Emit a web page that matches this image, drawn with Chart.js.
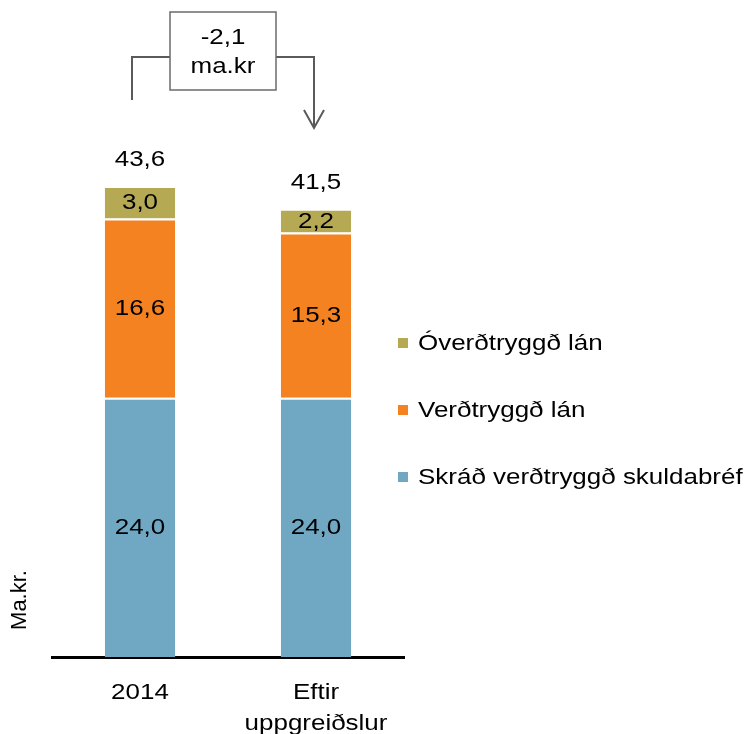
<!DOCTYPE html>
<html>
<head>
<meta charset="utf-8">
<script src="https://cdn.jsdelivr.net/npm/chart.js@4/dist/chart.umd.min.js"></script>
<style>
  html, body { margin: 0; padding: 0; background: #fff; }
  #wrap { width: 754px; height: 734px; }
</style>
</head>
<body>
<div id="wrap"><canvas id="c" width="754" height="734"></canvas></div>
<script>
// Categories and series (ma.kr.)
const categories = ['2014', ['Eftir', 'uppgreiðslur']];
const seriesNames = ['Skráð verðtryggð skuldabréf', 'Verðtryggð lán', 'Óverðtryggð lán'];
const skradVerdtryggd = [24.0, 24.0];
const verdtryggdLan = [16.6, 15.3];
const overdtryggdLan = [3.0, 2.2];
const totals = [43.6, 41.5];
const seriesColors = ['#70a8c4', '#f58220', '#b5a954'];
const yAxisTitle = 'Ma.kr.';
const changeUnit = 'ma.kr';

const FONT = '22px "Liberation Sans", Arial, sans-serif';
const STRETCH = 1.18;   // slightly widened lettering for horizontal text
const fmt = v => v.toFixed(1).replace('.', ',');

function wideText(ctx, text, x, y, align, rotate) {
  ctx.save();
  ctx.translate(x, y);
  if (rotate) ctx.rotate(rotate);
  else ctx.scale(STRETCH, 1);
  ctx.font = FONT;
  ctx.fillStyle = '#000';
  ctx.textAlign = align || 'center';
  ctx.textBaseline = 'middle';
  ctx.fillText(text, 0, 0);
  ctx.restore();
}

// Value labels inside each segment and totals above the stacks
const labelPlugin = {
  id: 'valueLabels',
  afterDatasetsDraw(chart) {
    const ctx = chart.ctx;
    chart.data.datasets.forEach((ds, i) => {
      chart.getDatasetMeta(i).data.forEach((bar, j) => {
        const p = bar.getProps(['x', 'y', 'base'], true);
        wideText(ctx, fmt(ds.data[j]), p.x, (p.y + p.base) / 2 + 1);
      });
    });
    chart.getDatasetMeta(chart.data.datasets.length - 1).data.forEach((bar, j) => {
      const p = bar.getProps(['x', 'y'], true);
      wideText(ctx, fmt(totals[j]), p.x, p.y - 26);
    });
  }
};

// Category labels under the axis line
const categoryPlugin = {
  id: 'categoryLabels',
  afterDraw(chart) {
    const ctx = chart.ctx;
    const xScale = chart.scales.x;
    const top = chart.chartArea.bottom;
    chart.data.labels.forEach((lab, i) => {
      const lines = Array.isArray(lab) ? lab : [lab];
      const x = xScale.getPixelForValue(i);
      lines.forEach((t, k) => wideText(ctx, t, x, top + 36 + k * 31));
    });
  }
};

// Change bracket with box and arrow between the two stacks
const changePlugin = {
  id: 'changeBracket',
  afterDraw(chart) {
    const ctx = chart.ctx;
    const xs = chart.getDatasetMeta(0).data.map(b => b.getProps(['x'], true).x);
    const xl = xs[0] - 8, xr = xs[1] - 2;
    const boxW = 106, boxTop = 12, boxBottom = 90, lineY = 57;
    const cx = (xl + xr) / 2;
    const bl = cx - boxW / 2, br = cx + boxW / 2;
    ctx.save();
    ctx.strokeStyle = '#5a5a5a';
    ctx.lineWidth = 2;
    ctx.beginPath();
    ctx.moveTo(xl, 100); ctx.lineTo(xl, lineY); ctx.lineTo(bl, lineY);
    ctx.moveTo(br, lineY); ctx.lineTo(xr, lineY); ctx.lineTo(xr, 128);
    ctx.moveTo(xr - 10, 110); ctx.lineTo(xr, 128); ctx.lineTo(xr + 10, 110);
    ctx.stroke();
    ctx.lineWidth = 1.5;
    ctx.strokeStyle = '#6b6b6b';
    ctx.strokeRect(bl, boxTop, boxW, boxBottom - boxTop);
    ctx.restore();
    wideText(ctx, fmt(totals[1] - totals[0]), cx, 38);
    wideText(ctx, changeUnit, cx, 67);
  }
};

// Legend on the right (top series first) and rotated axis title
const sidePlugin = {
  id: 'sideLegend',
  afterDraw(chart) {
    const ctx = chart.ctx;
    const n = chart.data.datasets.length;
    const gap = 67, midY = 410;
    chart.data.datasets.slice().reverse().forEach((ds, k) => {
      const y = midY + (k - (n - 1) / 2) * gap;
      ctx.fillStyle = ds.backgroundColor;
      ctx.fillRect(398, y - 5, 10, 10);
      wideText(ctx, ds.label, 418, y + 1, 'left');
    });
    wideText(ctx, yAxisTitle, 20, 600, 'center', -Math.PI / 2);
  }
};

const seriesValues = [skradVerdtryggd, verdtryggdLan, overdtryggdLan];

new Chart(document.getElementById('c'), {
  type: 'bar',
  data: {
    labels: categories,
    datasets: seriesValues.map((vals, i) => ({
      label: seriesNames[i],
      data: vals,
      backgroundColor: seriesColors[i],
      borderColor: '#ffffff',
      borderWidth: { top: 2, left: 0, right: 0, bottom: 0 },
      borderSkipped: false,
      categoryPercentage: 1,
      barPercentage: 0.4
    }))
  },
  options: {
    responsive: false,
    animation: false,
    devicePixelRatio: 1,
    layout: { padding: { left: 52, right: 350, top: 117, bottom: 0 } },
    plugins: { legend: { display: false }, tooltip: { enabled: false } },
    scales: {
      x: {
        stacked: true,
        offset: true,
        grid: { display: false, drawTicks: false },
        border: { display: true, color: '#000', width: 3 },
        ticks: { display: false },
        afterFit: s => { s.height = 77; }
      },
      y: { stacked: true, display: false, min: 0, max: 50 }
    }
  },
  plugins: [labelPlugin, categoryPlugin, changePlugin, sidePlugin]
});
</script>
</body>
</html>
